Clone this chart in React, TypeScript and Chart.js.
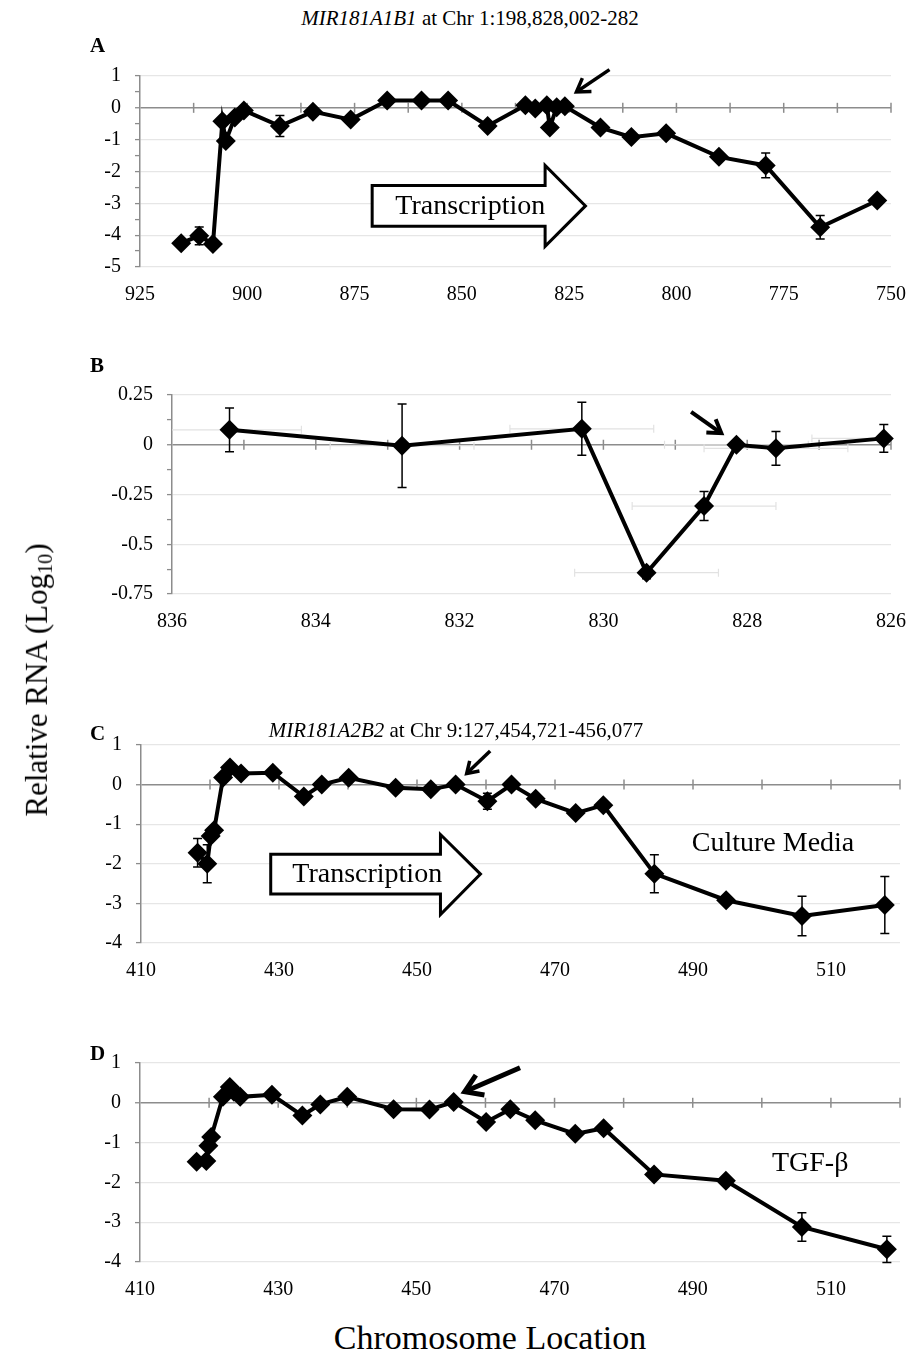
import React, { useEffect, useRef } from 'react';
import { Chart, registerables } from 'chart.js';

Chart.register(...registerables);

const SERIF = '"Liberation Serif", "Times New Roman", Times, serif';

// ---------- Panel A: MIR181A1B1 (position in bp offset, relative RNA log10, SD)
const posA = [915.4, 911.2, 908.0, 905.8, 905.0, 902.9, 900.8, 892.4, 884.7, 875.9, 867.4, 859.4, 853.2, 844.0, 835.2, 832.9, 830.2, 829.5, 827.9, 826.0, 817.7, 810.5, 802.4, 790.1, 779.2, 766.5, 753.2];
const rnaA = [-4.25, -4.02, -4.28, -0.42, -1.04, -0.3, -0.08, -0.57, -0.12, -0.37, 0.23, 0.23, 0.23, -0.57, 0.08, -0.02, 0.08, -0.62, 0.02, 0.05, -0.62, -0.92, -0.8, -1.54, -1.81, -3.75, -2.91];
const errA = [0.05, 0.28, 0.08, 0.08, 0.1, 0.1, 0.05, 0.33, 0.08, 0.05, 0.05, 0.05, 0.05, 0.08, 0.05, 0.05, 0.05, 0.1, 0.05, 0.05, 0.08, 0.08, 0.05, 0.08, 0.39, 0.37, 0.12];

// ---------- Panel B: zoom around 836-826
const posB = [835.2, 832.8, 830.3, 829.4, 828.6, 828.15, 827.6, 826.1];
const rnaB = [0.075, -0.005, 0.08, -0.643, -0.308, 0.0, -0.018, 0.032];
const errB = [0.11, 0.21, 0.133, 0.03, 0.073, 0.02, 0.085, 0.07];
const xErrB = [1, 1, 1, 1, 1, 1, 1, 1];

// ---------- Panel C: MIR181A2B2, culture media
const posC = [418.2, 419.6, 420.1, 420.6, 421.9, 422.9, 424.5, 429.1, 433.6, 436.2, 440.1, 446.9, 452.0, 455.6, 460.2, 463.7, 467.2, 473.0, 477.0, 484.4, 494.8, 505.8, 517.8];
const rnaC = [-1.72, -2.0, -1.3, -1.15, 0.18, 0.43, 0.28, 0.3, -0.3, 0.0, 0.17, -0.08, -0.12, 0.0, -0.42, 0.0, -0.36, -0.72, -0.52, -2.25, -2.92, -3.32, -3.04];
const errC = [0.36, 0.48, 0.1, 0.08, 0.08, 0.08, 0.08, 0.06, 0.08, 0.05, 0.06, 0.05, 0.05, 0.05, 0.2, 0.05, 0.08, 0.1, 0.08, 0.48, 0.1, 0.5, 0.72];

// ---------- Panel D: MIR181A2B2, TGF-beta
const posD = [418.2, 419.6, 419.9, 420.3, 422.0, 423.0, 423.6, 424.5, 429.1, 433.5, 436.1, 440.0, 446.7, 451.9, 455.4, 460.1, 463.6, 467.2, 473.0, 477.1, 484.4, 494.8, 505.8, 518.1];
const rnaD = [-1.48, -1.46, -1.08, -0.86, 0.15, 0.4, 0.28, 0.15, 0.2, -0.32, -0.04, 0.15, -0.16, -0.17, 0.02, -0.48, -0.16, -0.44, -0.78, -0.64, -1.8, -1.96, -3.12, -3.68];
const errD = [0.04, 0.05, 0.05, 0.06, 0.05, 0.06, 0.05, 0.04, 0.05, 0.06, 0.05, 0.05, 0.04, 0.05, 0.05, 0.06, 0.05, 0.05, 0.06, 0.05, 0.08, 0.08, 0.36, 0.33];

type Arrow = { from: [number, number]; to: [number, number]; head: number; width: number };
type BoxArrow = { x0: number; xh: number; xt: number; yTop: number; yBot: number; hTop: number; hBot: number; label: string };
type Note = { x: number; y: number; text: string };

interface PanelCfg {
  key: string;
  pos: number[];
  rna: number[];
  err: number[];
  xErr?: number[];
  xMin: number;
  xMax: number;
  xStep: number;
  reverse: boolean;
  xLabel: (v: number) => string;
  yMin: number;
  yMax: number;
  yStep: number;
  yGrid: number;
  axisLeft: number;
  plotTop: number;
  plotH: number;
  arrows: Arrow[];
  box?: BoxArrow;
  notes: Note[];
}

const PAD_TOP = 16;
const X_AXIS_H = 48;
const RIGHT = 900;

const isMult = (v: number, s: number) => Math.abs(v / s - Math.round(v / s)) < 1e-6;
const fmt = (v: number) => {
  const r = Math.round(v * 1000) / 1000;
  return String(Object.is(r, -0) ? 0 : r);
};

const panels: PanelCfg[] = [
  {
    key: 'A', pos: posA, rna: rnaA, err: errA,
    xMin: 750, xMax: 925, xStep: 12.5, reverse: true,
    xLabel: (v) => (isMult(v, 25) ? String(v) : ''),
    yMin: -5, yMax: 1, yStep: 0.5, yGrid: 1,
    axisLeft: 140, plotTop: 66, plotH: 201,
    arrows: [{ from: [815.6, 1.2], to: [823.3, 0.5], head: 15, width: 3.5 }],
    box: { x0: 870.9, xh: 830.6, xt: 821.2, yTop: -2.44, yBot: -3.72, hTop: -1.81, hBot: -4.35, label: 'Transcription' },
    notes: [],
  },
  {
    key: 'B', pos: posB, rna: rnaB, err: errB, xErr: xErrB,
    xMin: 826, xMax: 836, xStep: 1, reverse: true,
    xLabel: (v) => (isMult(v, 2) ? String(v) : ''),
    yMin: -0.75, yMax: 0.25, yStep: 0.125, yGrid: 0.25,
    axisLeft: 172, plotTop: 385, plotH: 209,
    arrows: [{ from: [828.78, 0.165], to: [828.36, 0.058], head: 15, width: 4 }],
    notes: [],
  },
  {
    key: 'C', pos: posC, rna: rnaC, err: errC,
    xMin: 410, xMax: 520, xStep: 10, reverse: false,
    xLabel: (v) => (isMult(v - 410, 20) ? String(v) : ''),
    yMin: -4, yMax: 1, yStep: 1, yGrid: 1,
    axisLeft: 141, plotTop: 735, plotH: 208,
    arrows: [{ from: [460.6, 0.85], to: [457.2, 0.28], head: 13, width: 3.5 }],
    box: { x0: 428.8, xh: 453.4, xt: 459.2, yTop: -1.76, yBot: -2.76, hTop: -1.26, hBot: -3.28, label: 'Transcription' },
    notes: [{ x: 501.6, y: -1.48, text: 'Culture Media' }],
  },
  {
    key: 'D', pos: posD, rna: rnaD, err: errD,
    xMin: 410, xMax: 520, xStep: 10, reverse: false,
    xLabel: (v) => (isMult(v - 410, 20) ? String(v) : ''),
    yMin: -4, yMax: 1, yStep: 1, yGrid: 1,
    axisLeft: 140, plotTop: 1053, plotH: 209,
    arrows: [{ from: [465.0, 0.88], to: [457.0, 0.28], head: 20, width: 5 }],
    notes: [{ x: 507.0, y: -1.52, text: 'TGF-β' }],
  },
];

function drawArrow(ctx: CanvasRenderingContext2D, x1: number, y1: number, x2: number, y2: number, head: number, width: number) {
  const ang = Math.atan2(y2 - y1, x2 - x1);
  ctx.save();
  ctx.strokeStyle = '#000';
  ctx.lineWidth = width;
  ctx.lineCap = 'butt';
  ctx.lineJoin = 'miter';
  ctx.beginPath();
  ctx.moveTo(x1, y1);
  ctx.lineTo(x2 - Math.cos(ang) * width * 0.6, y2 - Math.sin(ang) * width * 0.6);
  ctx.stroke();
  ctx.beginPath();
  const a = Math.PI / 5.5;
  ctx.moveTo(x2 - head * Math.cos(ang - a), y2 - head * Math.sin(ang - a));
  ctx.lineTo(x2, y2);
  ctx.lineTo(x2 - head * Math.cos(ang + a), y2 - head * Math.sin(ang + a));
  ctx.stroke();
  ctx.restore();
}

function Panel({ cfg }: { cfg: PanelCfg }) {
  const ref = useRef<HTMLCanvasElement>(null);
  const height = PAD_TOP + cfg.plotH + X_AXIS_H;
  useEffect(() => {
    const canvas = ref.current;
    if (!canvas) return;
    const overlay = {
      id: 'overlay' + cfg.key,
      beforeDatasetsDraw(chart: any) {
        const { ctx } = chart;
        const xs = chart.scales.x;
        const ys = chart.scales.y;
        const y0 = ys.getPixelForValue(0);
        ctx.save();
        // tick marks crossing the zero line
        ctx.strokeStyle = '#8c8c8c';
        ctx.lineWidth = 1.5;
        xs.ticks.forEach((t: any) => {
          const px = xs.getPixelForValue(t.value);
          if (px <= chart.chartArea.left + 0.5) return;
          ctx.beginPath();
          ctx.moveTo(px, y0 - 5);
          ctx.lineTo(px, y0 + 5);
          ctx.stroke();
        });
        // horizontal (position) error bars, light grey
        if (cfg.xErr) {
          ctx.save();
          ctx.beginPath();
          ctx.rect(chart.chartArea.left, 0, chart.chartArea.right - chart.chartArea.left + 1, chart.height);
          ctx.clip();
          ctx.strokeStyle = '#e2e2e2';
          ctx.lineWidth = 1.2;
          cfg.pos.forEach((x, i) => {
            const e = cfg.xErr![i];
            const py = ys.getPixelForValue(cfg.rna[i]);
            const a = xs.getPixelForValue(x - e);
            const b = xs.getPixelForValue(x + e);
            ctx.beginPath();
            ctx.moveTo(a, py);
            ctx.lineTo(b, py);
            ctx.moveTo(a, py - 4);
            ctx.lineTo(a, py + 4);
            ctx.moveTo(b, py - 4);
            ctx.lineTo(b, py + 4);
            ctx.stroke();
          });
          ctx.restore();
        }
        // vertical error bars
        ctx.strokeStyle = '#000';
        ctx.lineWidth = 1.5;
        cfg.pos.forEach((x, i) => {
          const px = xs.getPixelForValue(x);
          const top = ys.getPixelForValue(cfg.rna[i] + cfg.err[i]);
          const bot = ys.getPixelForValue(cfg.rna[i] - cfg.err[i]);
          ctx.beginPath();
          ctx.moveTo(px, top);
          ctx.lineTo(px, bot);
          ctx.moveTo(px - 4.5, top);
          ctx.lineTo(px + 4.5, top);
          ctx.moveTo(px - 4.5, bot);
          ctx.lineTo(px + 4.5, bot);
          ctx.stroke();
        });
        ctx.restore();
      },
      afterDatasetsDraw(chart: any) {
        const { ctx } = chart;
        const xs = chart.scales.x;
        const ys = chart.scales.y;
        const X = (v: number) => xs.getPixelForValue(v);
        const Y = (v: number) => ys.getPixelForValue(v);
        cfg.arrows.forEach((a) => drawArrow(ctx, X(a.from[0]), Y(a.from[1]), X(a.to[0]), Y(a.to[1]), a.head, a.width));
        if (cfg.box) {
          const b = cfg.box;
          const x0 = X(b.x0), xh = X(b.xh), xt = X(b.xt);
          const yt = Y(b.yTop), yb = Y(b.yBot), ht = Y(b.hTop), hb = Y(b.hBot);
          const ym = (yt + yb) / 2;
          ctx.save();
          ctx.beginPath();
          ctx.moveTo(x0, yt);
          ctx.lineTo(xh, yt);
          ctx.lineTo(xh, ht);
          ctx.lineTo(xt, ym);
          ctx.lineTo(xh, hb);
          ctx.lineTo(xh, yb);
          ctx.lineTo(x0, yb);
          ctx.closePath();
          ctx.fillStyle = '#fff';
          ctx.fill();
          ctx.lineWidth = 3;
          ctx.lineJoin = 'miter';
          ctx.strokeStyle = '#000';
          ctx.stroke();
          ctx.fillStyle = '#000';
          ctx.font = `28px ${SERIF}`;
          ctx.textAlign = 'center';
          ctx.textBaseline = 'middle';
          ctx.fillText(b.label, x0 + 0.46 * (xt - x0), ym + 1);
          ctx.restore();
        }
        cfg.notes.forEach((n) => {
          ctx.save();
          ctx.fillStyle = '#000';
          ctx.font = `28px ${SERIF}`;
          ctx.textAlign = 'center';
          ctx.textBaseline = 'middle';
          ctx.fillText(n.text, X(n.x), Y(n.y));
          ctx.restore();
        });
      },
    };

    const chart = new Chart(canvas, {
      type: 'scatter',
      data: {
        datasets: [
          {
            data: cfg.pos.map((x, i) => ({ x, y: cfg.rna[i] })),
            showLine: true,
            borderColor: '#000',
            borderWidth: 4,
            backgroundColor: '#000',
            pointBackgroundColor: '#000',
            pointBorderWidth: 0,
            pointStyle: 'rectRot',
            pointRadius: 10,
            pointHoverRadius: 10,
            tension: 0,
            clip: false,
          } as any,
        ],
      },
      options: {
        responsive: false,
        animation: false,
        events: [],
        layout: { padding: { top: PAD_TOP, right: 922 - RIGHT, bottom: 0, left: 0 } },
        plugins: { legend: { display: false }, tooltip: { enabled: false } },
        scales: {
          x: {
            type: 'linear',
            min: cfg.xMin,
            max: cfg.xMax,
            reverse: cfg.reverse,
            afterFit: (s: any) => {
              s.height = X_AXIS_H;
            },
            grid: { display: false, drawTicks: false },
            border: { display: false },
            ticks: {
              stepSize: cfg.xStep,
              autoSkip: false,
              maxRotation: 0,
              minRotation: 0,
              padding: 16,
              color: '#000',
              font: { family: SERIF, size: 20 },
              callback: (v: any) => cfg.xLabel(Number(v)),
            },
          },
          y: {
            type: 'linear',
            min: cfg.yMin,
            max: cfg.yMax,
            afterFit: (s: any) => {
              s.width = cfg.axisLeft;
            },
            grid: {
              color: (c: any) => {
                const v = c.tick ? c.tick.value : NaN;
                if (Math.abs(v) < 1e-9) return '#8c8c8c';
                if (isMult(v, cfg.yGrid)) return '#e6e6e6';
                return 'rgba(0,0,0,0)';
              },
              lineWidth: (c: any) => (c.tick && Math.abs(c.tick.value) < 1e-9 ? 1.5 : 1.2),
              tickColor: '#8c8c8c',
              tickLength: 5,
              tickWidth: 1.3,
            },
            border: { color: '#8c8c8c', width: 1.5 },
            ticks: {
              stepSize: cfg.yStep,
              autoSkip: false,
              padding: 14,
              color: '#000',
              font: { family: SERIF, size: 20 },
              callback: (v: any) => (isMult(Number(v), cfg.yGrid) ? fmt(Number(v)) : ''),
            },
          },
        },
      } as any,
      plugins: [overlay],
    });
    return () => chart.destroy();
  }, [cfg]);
  return (
    <canvas
      ref={ref}
      width={922}
      height={height}
      style={{ position: 'absolute', left: 0, top: cfg.plotTop - PAD_TOP, width: 922, height, display: 'block' }}
    />
  );
}

const textBase: React.CSSProperties = {
  position: 'absolute',
  whiteSpace: 'nowrap',
  fontFamily: SERIF,
  color: '#000',
  lineHeight: 1,
};

export default function App() {
  return (
    <div style={{ position: 'absolute', left: 0, top: 0, width: 922, height: 1359, background: '#fff', overflow: 'hidden' }}>
      {panels.map((p) => (
        <Panel key={p.key} cfg={p} />
      ))}
      {/* titles */}
      <div style={{ ...textBase, fontSize: 21, left: 470, top: 8, transform: 'translateX(-50%)' }}>
        <i>MIR181A1B1</i> at Chr 1:198,828,002-282
      </div>
      <div style={{ ...textBase, fontSize: 21, left: 456, top: 720, transform: 'translateX(-50%)' }}>
        <i>MIR181A2B2</i> at Chr 9:127,454,721-456,077
      </div>
      {/* panel letters */}
      {[
        ['A', 35],
        ['B', 355],
        ['C', 723],
        ['D', 1043],
      ].map(([l, t]) => (
        <div key={l as string} style={{ ...textBase, fontSize: 21, fontWeight: 'bold', left: 90, top: t as number }}>
          {l}
        </div>
      ))}
      {/* axis titles */}
      <div
        style={{
          ...textBase,
          fontSize: 31,
          left: 38,
          top: 680,
          transform: 'translate(-50%, -50%) rotate(-90deg)',
        }}
      >
        Relative RNA (Log<sub style={{ fontSize: '0.65em', verticalAlign: '-0.25em' }}>10</sub>)
      </div>
      <div style={{ ...textBase, fontSize: 34, left: 490, top: 1338, transform: 'translate(-50%, -50%)' }}>
        Chromosome Location
      </div>
    </div>
  );
}
